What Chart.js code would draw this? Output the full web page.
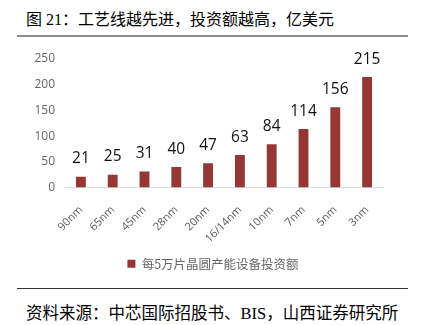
<!DOCTYPE html>
<html>
<head>
<meta charset="utf-8">
<script src="https://cdn.jsdelivr.net/npm/chart.js@4/dist/chart.umd.min.js"></script>
<style>
  body { margin: 0; background: #fff; width: 426px; height: 325px; position: relative; overflow: hidden; }
  #title { position: absolute; left: 26px; top: 6px; font: 16px "Liberation Serif", "Noto Sans CJK SC", serif; color: #000; white-space: nowrap; }
  #line1 { position: absolute; left: 17px; width: 391px; top: 35px; height: 2px; background: #8c8c8c; }
  #line2 { position: absolute; left: 17px; width: 391px; top: 288px; height: 1px; background: #333; }
  #source { position: absolute; left: 26px; top: 300px; font: 16.5px "Liberation Serif", "Noto Sans CJK SC", serif; color: #000; white-space: nowrap; }
  #wrap { position: absolute; left: 0; top: 40px; width: 426px; height: 240px; }
</style>
</head>
<body>
<div id="title">图 21：工艺线越先进，投资额越高，亿美元</div>
<div id="line1"></div>
<div id="wrap"><canvas id="chart"></canvas></div>
<div id="line2"></div>
<div id="source">资料来源：中芯国际招股书、BIS，山西证券研究所</div>
<script>
// process nodes and capex per 50k wafers capacity (100M USD)
const nodes = ['90nm', '65nm', '45nm', '28nm', '20nm', '16/14nm', '10nm', '7nm', '5nm', '3nm'];
const capex = [21, 25, 31, 40, 47, 63, 84, 114, 156, 215];
const seriesName = '每5万片晶圆产能设备投资额';

// draw value labels above each bar
const valueLabels = {
  id: 'valueLabels',
  afterDatasetsDraw(chart) {
    const ctx = chart.ctx;
    const meta = chart.getDatasetMeta(0);
    ctx.save();
    ctx.font = '15.5px "Open Sans", sans-serif';
    ctx.fillStyle = '#111';
    ctx.textAlign = 'center';
    ctx.textBaseline = 'bottom';
    meta.data.forEach((bar, i) => {
      ctx.fillText(chart.data.datasets[0].data[i], bar.x, bar.y - 10);
    });
    ctx.restore();
  }
};

// center the legend on the whole canvas, not on the padded area
const legendCenter = {
  id: 'legendCenter',
  afterLayout(chart) {
    chart.legend.left = 0;
    chart.legend.right = chart.width;
  }
};

new Chart(document.getElementById('chart'), {
  type: 'bar',
  data: {
    labels: nodes,
    datasets: [{
      label: seriesName,
      data: capex,
      backgroundColor: '#953735',
      barPercentage: 0.31,
      categoryPercentage: 1
    }]
  },
  options: {
    responsive: true,
    maintainAspectRatio: false,
    animation: false,
    layout: { padding: { top: 19, right: 43, left: 0, bottom: 0 } },
    plugins: {
      tooltip: { enabled: false },
      legend: {
        position: 'bottom',
        labels: {
          boxWidth: 8,
          boxHeight: 8,
          color: '#666',
          font: { size: 12.5, family: '"Noto Sans CJK SC", sans-serif' },
          padding: 10
        }
      }
    },
    scales: {
      x: {
        grid: { display: false },
        border: { color: '#d9d9d9', width: 1 },
        ticks: {
          color: '#595959',
          font: { size: 11, family: '"Open Sans", sans-serif' },
          maxRotation: 45,
          minRotation: 45,
          padding: 8
        },
        afterFit(scale) { scale.height = 60; }
      },
      y: {
        min: 0,
        max: 250,
        grid: { display: false },
        border: { display: false },
        ticks: {
          stepSize: 50,
          color: '#666',
          font: { size: 12, family: '"Open Sans", sans-serif' },
          padding: 2
        },
        afterFit(scale) { scale.width = 65; }
      }
    }
  },
  plugins: [valueLabels, legendCenter]
});
</script>
</body>
</html>
